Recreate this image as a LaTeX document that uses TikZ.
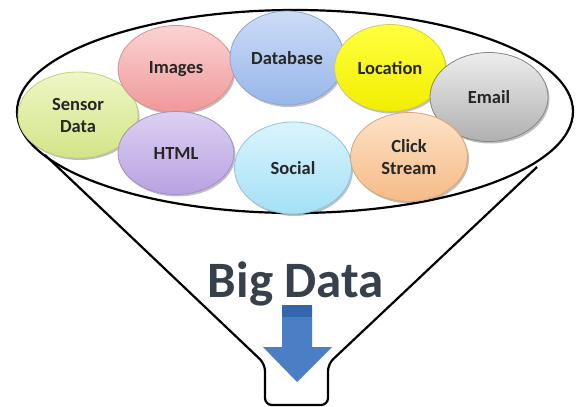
\documentclass[tikz,border=0pt]{standalone}
\usepackage{fontspec}
\setmainfont{Carlito}
\usetikzlibrary{shapes.geometric,shadows}
\definecolor{txtgray}{HTML}{262626}
\definecolor{bigtxt}{HTML}{38414B}
\definecolor{arrowblue}{HTML}{4A7FC6}
\definecolor{arrowdark}{HTML}{3566AD}
\definecolor{senT}{HTML}{EEF6C6}\definecolor{senB}{HTML}{D2E587}\definecolor{senD}{HTML}{C3D27C}
\definecolor{imgT}{HTML}{FBD3D3}\definecolor{imgB}{HTML}{F09898}\definecolor{imgD}{HTML}{D99191}
\definecolor{htmT}{HTML}{DCD0F3}\definecolor{htmB}{HTML}{B8A2E0}\definecolor{htmD}{HTML}{A28ECC}
\definecolor{dbT}{HTML}{CCDCF6}\definecolor{dbB}{HTML}{98B6EA}\definecolor{dbD}{HTML}{8AA6D6}
\definecolor{socT}{HTML}{DBF4FD}\definecolor{socB}{HTML}{A4E0F5}\definecolor{socD}{HTML}{8CC6DE}
\definecolor{locT}{HTML}{FFFF40}\definecolor{locB}{HTML}{F2EE00}\definecolor{locD}{HTML}{CFCB55}
\definecolor{emT}{HTML}{EDEDED}\definecolor{emB}{HTML}{B0B0B0}\definecolor{emD}{HTML}{858585}
\definecolor{clT}{HTML}{FDE2C7}\definecolor{clB}{HTML}{F5BB86}\definecolor{clD}{HTML}{D6A676}
\begin{document}
\begin{tikzpicture}[x=1pt,y=-1pt,
  bubble/.style n args={3}{ellipse, inner sep=0pt, top color=#1, bottom color=#2,
    draw=#3, line width=0.8pt,
    drop shadow={shadow xshift=1.5pt, shadow yshift=-2pt, opacity=0.25, fill=black},
    font=\bfseries\fontsize{18.5}{22}\selectfont, text=txtgray, align=center},
  funnel/.style={line width=2.2pt, draw=black}]
\useasboundingbox (0,0) rectangle (579,407);
% funnel
\node[ellipse, draw, line width=2.2pt, fill=white, minimum width=556pt, minimum height=203pt, inner sep=0pt] (rim) at (295,111.5) {};
\coordinate (tl) at (45,155);
\coordinate (tr) at (537,167);
\coordinate (nl) at (265,364);
\coordinate (nr) at (328,364);
\coordinate (bl) at (265,405);
\coordinate (br) at (328,405);
\draw[funnel, rounded corners=7pt] (tl) -- (nl) -- (bl) -- (br) -- (nr) -- (tr);
% bubbles
\node[bubble={senT}{senB}{senD}, minimum width=120pt, minimum height=86pt] (sensor) at (78,115) {Sensor\\Data};
\node[bubble={imgT}{imgB}{imgD}, minimum width=116pt, minimum height=87pt] (images) at (176,69) {Images};
\node[bubble={htmT}{htmB}{htmD}, minimum width=116pt, minimum height=83pt] (html) at (176,153) {HTML};
\node[bubble={dbT}{dbB}{dbD}, minimum width=114pt, minimum height=94pt] (database) at (287,58) {Database};
\node[bubble={socT}{socB}{socD}, minimum width=117pt, minimum height=92pt] (social) at (293,168) {Social};
\node[bubble={locT}{locB}{locD}, minimum width=111pt, minimum height=87pt] (location) at (390,68) {Location};
\node[bubble={emT}{emB}{emD}, minimum width=118pt, minimum height=89pt] (email) at (489,97) {Email};
\node[bubble={clT}{clB}{clD}, minimum width=117pt, minimum height=89pt] (click) at (409,157) {Click\\Stream};
% big data
\node[font=\bfseries\fontsize{51}{55}\selectfont, text=bigtxt, anchor=base, inner sep=0pt] (big) at (296,297) {Big Data};
% arrow
\fill[arrowblue] (282,305) -- (312,305) -- (312,347) -- (332,347) -- (297,382) -- (263,347) -- (282,347) -- cycle;
\fill[arrowdark] (282,305) rectangle (312,317);
\end{tikzpicture}
\end{document}
